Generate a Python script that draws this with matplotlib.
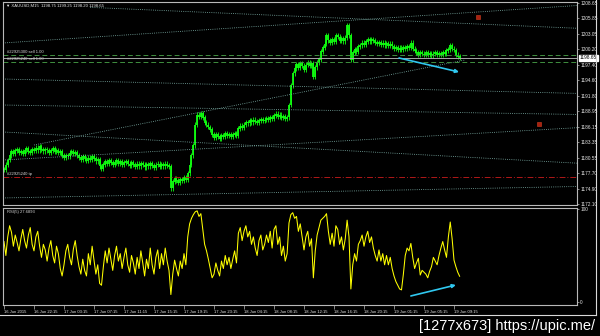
import matplotlib
matplotlib.use('Agg')
import matplotlib.pyplot as plt
import matplotlib.transforms as mtransforms

# ---------------- data ----------------
closes = [
    1178.3, 1179.2, 1180.1, 1181.0, 1181.6, 1181.2, 1181.8, 1182.1, 1181.5, 1181.7,
    1181.3, 1181.9, 1182.2, 1181.6, 1181.4, 1182.0, 1181.8, 1182.3, 1181.9, 1182.6,
    1182.0, 1181.7, 1182.1, 1181.9, 1181.5, 1181.8, 1182.2, 1181.6, 1181.9, 1181.4,
    1181.7, 1180.9, 1180.6, 1181.0, 1180.8, 1181.4, 1181.7, 1181.2, 1181.5, 1181.0,
    1180.6, 1180.2, 1180.7, 1180.3, 1180.0, 1180.5, 1180.1, 1180.8, 1180.4, 1179.9,
    1180.2, 1179.0, 1178.6, 1179.3, 1179.8, 1179.4, 1180.0, 1179.6, 1179.2, 1179.7,
    1180.0, 1179.5, 1179.8, 1179.3, 1179.6, 1179.9, 1179.4, 1179.1, 1179.6, 1179.3,
    1178.9, 1179.4, 1179.0, 1179.5, 1179.2, 1178.8, 1179.3, 1179.0, 1179.5, 1179.1,
    1178.7, 1179.2, 1179.4, 1178.9, 1179.3, 1179.0, 1179.4, 1179.1, 1178.9, 1175.0,
    1176.2, 1176.8, 1176.4, 1176.0, 1176.6, 1176.3, 1176.9, 1176.5, 1177.7, 1179.2,
    1181.0, 1182.8, 1186.5, 1188.3, 1188.0, 1188.6, 1187.8, 1186.9, 1186.5, 1186.1,
    1185.6, 1184.7, 1184.2, 1184.8, 1184.4, 1184.0, 1184.6, 1184.3, 1184.9, 1184.5,
    1184.8, 1184.3, 1184.7, 1185.0, 1184.6, 1185.8, 1186.3, 1186.0, 1186.5, 1187.0,
    1186.8, 1187.3, 1187.0, 1187.4, 1187.1, 1186.9, 1187.3, 1187.5, 1187.2, 1187.4,
    1187.7, 1187.5, 1187.9, 1187.6, 1188.2, 1188.5, 1188.0, 1188.3, 1187.8, 1188.1,
    1187.6, 1187.9, 1190.1, 1193.7, 1195.9, 1196.8, 1197.5, 1196.9, 1197.6, 1197.2,
    1196.6, 1197.4, 1197.8, 1197.3, 1197.6, 1195.2, 1197.0, 1197.8, 1198.4, 1199.8,
    1200.6, 1201.2, 1202.8, 1201.9, 1201.4, 1202.0, 1201.6, 1202.8, 1202.5, 1201.8,
    1202.2, 1201.7, 1202.3, 1204.6, 1202.8, 1198.3, 1199.6, 1200.2, 1199.8, 1200.7,
    1201.0, 1201.4, 1201.1, 1201.6, 1202.0, 1201.7, 1202.1, 1201.8, 1201.5, 1201.2,
    1201.5, 1201.1, 1201.4, 1201.0, 1201.3, 1200.9, 1201.2, 1200.8, 1200.4, 1200.6,
    1200.2, 1200.5, 1200.1, 1200.6, 1200.3, 1200.7, 1200.5, 1201.4, 1200.3, 1200.0,
    1199.6, 1199.3, 1199.7, 1199.4, 1199.2, 1199.6, 1199.3, 1199.5, 1199.1, 1199.4,
    1199.6, 1199.2, 1199.5, 1199.3, 1199.7, 1199.4, 1200.0, 1200.2, 1201.0, 1200.3,
    1200.1, 1199.2, 1198.9, 1198.65,
]

rsi = [
    65, 50, 70, 82, 75, 60, 72, 64, 55, 68,
    78, 66, 58, 72, 80, 62, 55, 70, 76, 60,
    48, 62, 56, 44, 58, 66, 50, 42, 60, 52,
    36, 28, 40, 55, 62, 48, 40, 57, 66, 50,
    38, 30, 46, 34, 28, 52, 40, 60, 45, 30,
    40, 20, 18, 38, 55, 42, 58, 46, 34, 50,
    60, 44, 52, 36, 48, 58, 40, 32, 50, 42,
    30, 48, 36, 55, 42, 28, 46, 36, 58, 40,
    30, 48, 56, 36, 52, 40, 58, 44, 34, 8,
    30, 45, 36, 28, 44, 36, 52, 40, 70, 84,
    90, 94, 97, 98, 92, 95, 78, 62, 55, 46,
    36, 26, 30, 42, 34, 28, 44, 36, 50, 40,
    48, 36, 46, 55, 42, 74, 80, 66, 76, 82,
    70, 76, 62, 70, 58, 50, 66, 72, 56, 62,
    72, 64, 76, 58, 78, 82, 62, 70, 50, 60,
    44, 52, 85, 94, 96, 90, 92, 76, 84, 70,
    56, 70, 76, 60, 68, 26, 55, 72, 80, 88,
    90, 92, 95, 76, 62, 74, 60, 82, 78, 62,
    70, 56, 68, 88, 70, 14, 40, 52, 44, 62,
    66, 72, 60, 70, 76, 64, 70, 58, 50, 44,
    56, 44, 52, 40, 50, 40, 48, 36, 28, 22,
    18, 14, 13, 30, 50, 58, 55, 63, 48, 36,
    42, 47, 29, 34, 32, 30, 26, 33, 38, 48,
    44, 40, 50, 58, 65, 56, 48, 70, 86, 68,
    45, 38, 32, 27.6893,
]

price_ticks = [1208.65, 1205.85, 1203.05, 1200.20, 1197.40, 1194.60, 1191.80,
               1188.95, 1186.15, 1183.35, 1180.55, 1177.70, 1174.90, 1172.10]
time_tick_idx = [0, 16, 32, 48, 64, 80, 96, 112, 128, 144, 160, 176, 192, 208, 224, 240]
time_tick_labels = ["16 Jun 2015", "16 Jun 22:15", "17 Jun 03:15", "17 Jun 07:15",
                    "17 Jun 11:15", "17 Jun 15:15", "17 Jun 19:15", "17 Jun 23:15",
                    "18 Jun 04:15", "18 Jun 08:15", "18 Jun 12:15", "18 Jun 16:15",
                    "18 Jun 20:15", "19 Jun 01:15", "19 Jun 05:15", "19 Jun 09:15"]

# trend lines (bar index, price) start -> end
trend_lines = [
    ((0.5, 1201.4), (306.0, 1208.2)),
    ((46.0, 1207.85), (306.0, 1204.05)),
    ((-0.5, 1194.83), (306.0, 1192.21)),
    ((-0.5, 1190.10), (306.0, 1188.38)),
    ((16.0, 1182.83), (246.0, 1198.29)),
    ((-0.5, 1180.10), (306.0, 1185.98)),
    ((-0.5, 1185.20), (306.0, 1179.52)),
    ((-0.5, 1173.20), (306.0, 1175.29)),
]
sell_order_prices = [1199.2, 1197.9]
sell_order_labels = ["#22925300 sell 1.00", "#22925240 sell 1.00"]
tp_price = 1177.0
tp_label = "#22925240 tp"
bid_price = 1198.65
title = "XAUUSD,M15  1198.75 1199.25 1198.20 1198.65"
rsi_label = "RSI(5) 27.6893"
red_marks = [(252.8, 1206.1), (285.3, 1186.65)]
price_arrow = ((210.7, 1198.65), (242.7, 1196.1))
rsi_arrow = ((217.0, 6.5), (241.0, 18.3))

# ---------------- figure ----------------
SMALL = 'Liberation Sans'
W, H = 600, 336
fig = plt.figure(figsize=(6, 3.36), dpi=100, facecolor='black')

def fx(px):
    return px / W

def fy(py):
    return 1 - py / H

ax = fig.add_axes([fx(3), fy(205), fx(577) - fx(3), fy(2) - fy(205)])
ax2 = fig.add_axes([fx(3), fy(305), fx(577) - fx(3), fy(208) - fy(305)])

frame_col = '#b8b8b8'
for a in (ax, ax2):
    a.set_facecolor('black')
    for s in a.spines.values():
        s.set_color(frame_col)
        s.set_linewidth(0.8)
    a.set_xlim(-0.53, 305.6)

ax.set_ylim(1171.92, 1208.83)
ax2.set_ylim(-3.23, 101.08)

# candles
green = '#10ff10'
n = len(closes)
for i in range(n):
    o = closes[i - 1] if i > 0 else closes[i]
    c = closes[i]
    lo, hi = min(o, c), max(o, c)
    ax.vlines(i, lo - 0.45, hi + 0.45, color=green, lw=0.6)
    ax.vlines(i, lo - 0.05, max(hi, lo + 0.2) + 0.05, color=green, lw=1.3)

# trend lines
for (x0, y0), (x1, y1) in trend_lines:
    ax.plot([x0, x1], [y0, y1], color='#80b4ac', lw=0.6, ls=(0, (1, 1.6)))

# order lines
for p, lab in zip(sell_order_prices, sell_order_labels):
    ax.axhline(p, color='#3f8f3f', lw=0.7, ls=(0, (5, 3)))
    ax.text(1.5, p + 0.25, lab, color='#d8d8d8', fontsize=3.0, va='bottom', ha='left',
            family=SMALL)
ax.axhline(bid_price, color='#a8a8a8', lw=0.7)
ax.axhline(tp_price, color='#b01818', lw=0.7, ls=(0, (6, 2, 1, 2)))
ax.text(1.5, tp_price + 0.25, tp_label, color='#d8d8d8', fontsize=3.0, va='bottom', ha='left',
        family=SMALL)

for (xi, yi) in red_marks:
    ax.plot(xi, yi, marker='s', ms=2.6, color='#a82010', mec='#d04020', mew=0.4)

ax.annotate('', xy=price_arrow[1], xytext=price_arrow[0],
            arrowprops=dict(arrowstyle='-|>', color='#30c8f0', lw=1.2, mutation_scale=5,
                            shrinkA=0, shrinkB=0))

# price axis
ax.yaxis.tick_right()
ax.set_yticks(price_ticks)
ax.set_yticklabels([f"{v:.2f}" for v in price_ticks], family=SMALL)
ax.tick_params(axis='y', colors=frame_col, labelcolor='#e8e8e8', labelsize=3.4,
               length=1.5, width=0.5, pad=0.8)
ax.set_xticks([])
trans = mtransforms.blended_transform_factory(ax.transAxes, ax.transData)
ax.text(1.005, bid_price, f"{bid_price:.2f}", transform=trans, fontsize=3.4,
        color='black', va='center', ha='left', family=SMALL,
        bbox=dict(boxstyle='square,pad=0.15', fc='white', ec='white'))

# RSI
ax2.plot(range(len(rsi)), rsi, color='#ffff00', lw=0.75)
ax2.annotate('', xy=rsi_arrow[1], xytext=rsi_arrow[0],
             arrowprops=dict(arrowstyle='-|>', color='#30c8f0', lw=1.2, mutation_scale=5,
                             shrinkA=0, shrinkB=0))
ax2.text(1.5, 99, rsi_label, color='#d8d8d8', fontsize=3.0, va='top', ha='left', family=SMALL)
ax2.yaxis.tick_right()
ax2.set_yticks([0, 100])
ax2.set_yticklabels(['0', '100'], family=SMALL)
ax2.tick_params(axis='y', colors=frame_col, labelcolor='#e8e8e8', labelsize=3.4,
                length=1.5, width=0.5, pad=0.8)
ax2.set_xticks(time_tick_idx)
ax2.set_xticklabels(time_tick_labels, family=SMALL)
for lab in ax2.get_xticklabels():
    lab.set_ha('left')
ax2.tick_params(axis='x', colors=frame_col, labelcolor='#e8e8e8', labelsize=3.0,
                length=3, width=0.5, pad=0.8)

# title
fig.text(fx(6), fy(5.5), "\u25bc " + title, color='#e8e8e8', fontsize=3.1, va='center',
         ha='left', family=[SMALL, 'DejaVu Sans'])

# outer frame lines
fig.add_artist(plt.Line2D([fx(596), fx(596)], [fy(0), fy(315)], color='#d8d8d8', lw=0.8))
fig.add_artist(plt.Line2D([fx(0), fx(596)], [fy(315), fy(315)], color='#d8d8d8', lw=0.8))

# watermark
fig.text(fx(595), fy(326), "[1277x673] https://upic.me/", color='white',
         fontsize=10.5, va='center', ha='right', family=SMALL)

fig.savefig('out.png', dpi=100, facecolor='black')
